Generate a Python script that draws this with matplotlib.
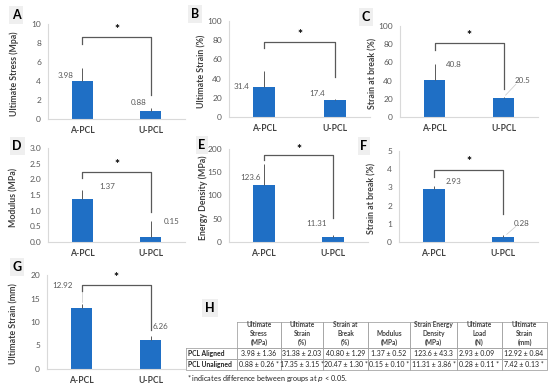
import numpy as np
from matplotlib import pyplot as plt

plt.rcParams['font.family'] = ['Lato', 'DejaVu Sans']

W, H = 550, 388

# ---- data ----
groups = ['A-PCL', 'U-PCL']

ult_stress = [3.98, 0.88]
ult_stress_err = [1.40, 0.27]
ult_strain = [31.4, 17.4]
ult_strain_err = [17.0, 1.6]
break_strain = [40.8, 20.5]
break_strain_err = [17.5, 1.5]
modulus = [1.37, 0.15]
modulus_err = [0.30, 0.52]
energy = [123.6, 11.31]
energy_err = [44.0, 3.9]
break_strain2 = [2.93, 0.28]
break_strain2_err = [0.17, 0.11]
ult_strain_mm = [12.92, 6.26]
ult_strain_mm_err = [0.90, 0.75]

tbl_headers = ['Ultimate\nStress\n(MPa)', 'Ultimate\nStrain\n(%)', 'Strain at\nBreak\n(%)',
               'Modulus\n(MPa)', 'Strain Energy\nDensity\n(MPa)', 'Ultimate\nLoad\n(N)',
               'Ultimate\nStrain\n(mm)']
tbl_rows = ['PCL Aligned', 'PCL Unaligned']
tbl_aligned = ['3.98 ± 1.36', '31.38 ± 2.03', '40.80 ± 1.29', '1.37 ± 0.52',
               '123.6 ± 43.3', '2.93 ± 0.09', '12.92 ± 0.84']
tbl_unaligned = ['0.88 ± 0.26 *', '17.35 ± 3.15 *', '20.47 ± 1.30 *', '0.15 ± 0.10 *',
                 '11.31 ± 3.86 *', '0.28 ± 0.11 *', '7.42 ± 0.13 *']

# ---- layout (pixels / data-space annotation spots) ----
panels = [
    dict(letter='A', vals=ult_stress, errs=ult_stress_err, ylabel='Ultimate Stress (Mpa)',
         ymax=10, step=2, fmt='{:.0f}', box=(48, 24, 185, 119), let=(16, 15), ylx=14,
         br=(8.6, 7.9, 2.5, 9.4), lab=[(0.25, 4.6), (1.33, 1.7)]),
    dict(letter='B', vals=ult_strain, errs=ult_strain_err, ylabel='Ultimate Strain (%)',
         ymax=100, step=20, fmt='{:.0f}', box=(229, 21, 370, 117), let=(195, 14), ylx=202,
         br=(78, 72, 41.6, 86), lab=[(0.18, 32), (1.25, 25)]),
    dict(letter='C', vals=break_strain, errs=break_strain_err, ylabel='Strain at break (%)',
         ymax=100, step=20, fmt='{:.0f}', box=(400, 26, 538, 117), let=(366, 17), ylx=373,
         br=(81, 74, 31, 90), lab=[(0.78, 58), (1.77, 40)]),
    dict(letter='D', vals=modulus, errs=modulus_err, ylabel='Modulus (MPa)',
         ymax=3, step=0.5, fmt='{:.1f}', box=(48, 148, 185, 242), let=(17, 146), ylx=14,
         br=(2.23, 2.04, 0.96, 2.48), lab=[(0.86, 1.76), (1.81, 0.64)]),
    dict(letter='E', vals=energy, errs=energy_err, ylabel='Energy Density (MPa)',
         ymax=200, step=50, fmt='{:.0f}', box=(229, 149, 368, 242), let=(202, 145), ylx=203,
         br=(187, 176, 52, 198), lab=[(0.31, 138), (1.26, 39)]),
    dict(letter='F', vals=break_strain2, errs=break_strain2_err, ylabel='Strain at break (%)',
         ymax=5, step=1, fmt='{:.0f}', box=(399, 151, 538, 242), let=(364, 146), ylx=372,
         br=(3.96, 3.57, 1.54, 4.4), lab=[(0.79, 3.3), (1.76, 0.99)]),
    dict(letter='G', vals=ult_strain_mm, errs=ult_strain_mm_err, ylabel='Ultimate Strain (mm)',
         ymax=20, step=5, fmt='{:.0f}', box=(47, 275, 185, 369), let=(17, 267), ylx=14,
         br=(17.9, 16.6, 8.3, 19.5), lab=[(0.22, 17.7), (1.65, 9.1)]),
]

BLUE = '#1f6fc5'
GREY = '#595959'
DARK = '#404040'


def rect(x0, y0, x1, y1):
    return [x0 / W, 1 - y1 / H, (x1 - x0) / W, (y1 - y0) / H]


fig = plt.figure(figsize=(W / 100, H / 100), dpi=100)
fig.set_facecolor('white')

for p in panels:
    ax = fig.add_axes(rect(*p['box']))
    x = np.arange(len(groups)) + 0.5
    ax.bar(x, p['vals'], width=0.31, color=BLUE, zorder=2)
    # excel style: only the upper whisker
    ax.vlines(x, p['vals'], np.array(p['vals']) + np.array(p['errs']), color=GREY, lw=0.7, zorder=3)
    for xi, v, (lx, ly) in zip(x, p['vals'], p['lab']):
        ax.text(lx, ly, str(v), ha='center', va='center', fontsize=5.8, color=GREY)
    top, lb, rb, sy = p['br']
    ax.plot([x[0], x[0], x[1], x[1]], [lb, top, top, rb], color='#595959', lw=0.9, zorder=4)
    ax.text(x.mean(), sy, '*', ha='center', va='center', fontsize=8.5, fontweight='bold')

    ax.set_xlim(0, 2)
    ax.set_ylim(0, p['ymax'])
    ticks = np.arange(0, p['ymax'] + p['step'] / 2, p['step'])
    ax.set_yticks(ticks)
    ax.set_yticklabels([p['fmt'].format(t) for t in ticks])
    ax.set_xticks(x)
    ax.set_xticklabels(groups, fontweight='bold')
    ax.tick_params(axis='y', length=0, pad=5, labelsize=6, labelcolor=GREY)
    ax.tick_params(axis='x', length=0, pad=5, labelsize=6.2, labelcolor=DARK)
    for s in ['top', 'right']:
        ax.spines[s].set_visible(False)
    for s in ['left', 'bottom']:
        ax.spines[s].set_color('#d9d9d9')
        ax.spines[s].set_linewidth(0.8)

    x0, y0, x1, y1 = p['box']
    fig.text(p['ylx'] / W, 1 - ((y0 + y1) / 2 + 2) / H, p['ylabel'], rotation=90, ha='center',
             va='center', fontsize=6.3, fontweight='bold', color=DARK)
    lx, ly = p['let']
    fig.text(lx / W, 1 - ly / H, p['letter'], ha='center', va='center', fontsize=9,
             fontweight='bold', bbox=dict(facecolor='#efefef', edgecolor='none', pad=2))

# faint leader lines for moved data labels
leaders = {'C': [(1.53, 24, 1.68, 36)], 'F': [(1.55, 0.42, 1.68, 0.85)], 'G': [(0.5, 14.2, 0.5, 16.5)]}
for ax, p in zip(fig.axes, panels):
    for seg in leaders.get(p['letter'], []):
        ax.plot([seg[0], seg[2]], [seg[1], seg[3]], color='#c8c8c8', lw=0.5)

# ---- table H ----
tax = fig.add_axes([0, 0, 1, 1])
tax.set_xlim(0, W)
tax.set_ylim(H, 0)
tax.axis('off')

fig.text(210 / W, 1 - 308 / H, 'H', ha='center', va='center', fontsize=9,
         fontweight='bold', bbox=dict(facecolor='#efefef', edgecolor='none', pad=2))

col_edges = [186, 237, 281, 323, 368, 410, 457, 502, 547]
row_edges = [322, 348, 359, 370]
lc = '#a6a6a6'
# header cells
for c in range(1, len(col_edges) - 1):
    xa, xb = col_edges[c], col_edges[c + 1]
    tax.plot([xa, xb, xb, xa, xa], [row_edges[0], row_edges[0], row_edges[1], row_edges[1], row_edges[0]],
             color=lc, lw=0.6)
    tax.text((xa + xb) / 2, row_edges[1] - 1.5, tbl_headers[c - 1], ha='center', va='bottom',
             fontsize=4.7, fontweight='bold', color=DARK, linespacing=1.35)
# body cells
for r, (name, vals) in enumerate(zip(tbl_rows, [tbl_aligned, tbl_unaligned])):
    ya, yb = row_edges[r + 1], row_edges[r + 2]
    for c in range(len(col_edges) - 1):
        xa, xb = col_edges[c], col_edges[c + 1]
        tax.plot([xa, xb, xb, xa, xa], [ya, ya, yb, yb, ya], color=lc, lw=0.6)
    tax.text(col_edges[0] + 1.5, (ya + yb) / 2, name, ha='left', va='center', fontsize=4.9,
             fontweight='bold', color='#222222')
    for c, v in enumerate(vals):
        xa, xb = col_edges[c + 1], col_edges[c + 2]
        if c >= 5:
            tax.text(xa + 2, (ya + yb) / 2, v, ha='left', va='center', fontsize=5.0, color='#222222')
        else:
            tax.text((xa + xb) / 2, (ya + yb) / 2, v, ha='center', va='center', fontsize=5.0,
                     color='#222222')

tax.text(187, 378, r'* indicates difference between groups at $\it{p}$ < 0.05.', ha='left',
         va='center', fontsize=5.2, color='#222222')

fig.savefig('out.png', dpi=100)
